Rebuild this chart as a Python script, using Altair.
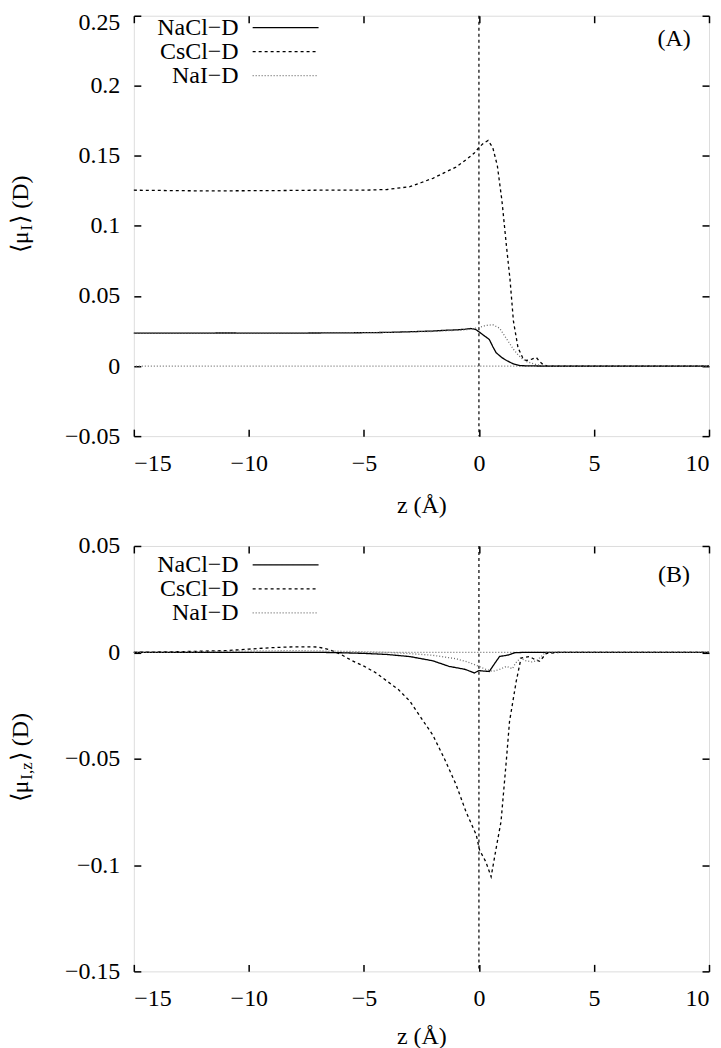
import altair as alt
import pandas as pd

FONT = "Liberation Serif"
SERIES = ["NaCl−D", "CsCl−D", "NaI−D"]
SERIES_COLORS = ["black", "black", "#6e6e6e"]
SERIES_DASH = [[1, 0], [3, 3], [1, 2]]
X_TICKS = [-15, -10, -5, 0, 5, 10]
A_TICKS = [-0.05, 0, 0.05, 0.1, 0.15, 0.2, 0.25]
B_TICKS = [-0.15, -0.1, -0.05, 0, 0.05]

# ---------------- Panel A : <mu_I> ----------------
a_nacl_z = [-15, -13, -11, -9, -7, -5, -4, -3, -2, -1.5, -1, -0.6, -0.35, -0.15, 0, 0.2, 0.45,
            0.6, 0.75, 1.0, 1.2, 1.5, 1.8, 2.2, 3, 5, 10]
a_nacl_v = [0.0235, 0.0235, 0.0236, 0.0235, 0.0236, 0.0238, 0.024, 0.0245, 0.025, 0.0255, 0.0258,
            0.0263, 0.0268, 0.0262, 0.0245, 0.022, 0.019, 0.014, 0.0095, 0.006, 0.004, 0.0015,
            0.0003, 0.0001, 0, 0, 0]

a_cscl_z = [-15, -12, -9, -7, -5, -4, -3, -2.5, -2, -1.5, -1, -0.5, -0.2, 0, 0.2, 0.4, 0.6, 0.8,
            1.0, 1.2, 1.35, 1.5, 1.7, 1.9, 2.05, 2.3, 2.5, 2.65, 2.8, 3.0, 5, 10]
a_cscl_v = [0.1255, 0.125, 0.1252, 0.1255, 0.1255, 0.126, 0.128, 0.131, 0.134, 0.138, 0.142, 0.148,
            0.152, 0.156, 0.159, 0.161, 0.156, 0.143, 0.118, 0.085, 0.062, 0.032, 0.013, 0.006,
            0.004, 0.005, 0.006, 0.003, 0.001, 0, 0, 0]

a_nai_z = [-15, -12, -9, -6, -4, -2, -1, -0.5, 0, 0.3, 0.6, 0.9, 1.1, 1.3, 1.5, 1.7, 1.9, 2.1, 2.3,
           2.5, 2.7, 2.9, 3.2, 5, 10]
a_nai_v = [0.0235, 0.0236, 0.0236, 0.0237, 0.024, 0.0247, 0.0255, 0.026, 0.0275, 0.029, 0.0295,
           0.027, 0.022, 0.017, 0.012, 0.008, 0.005, 0.003, 0.002, 0.001, 0.0005, 0.0002, 0, 0, 0]

# ---------------- Panel B : <mu_I,z> ----------------
b_nacl_z = [-15, -12, -9, -7, -6, -5, -4, -3, -2, -1.3, -0.6, -0.2, 0, 0.2, 0.45, 0.7, 0.9, 1.1,
            1.3, 1.55, 2, 3, 10]
b_nacl_v = [0, 0, 0, 0, -0.0002, -0.0005, -0.001, -0.002, -0.004, -0.0066, -0.008, -0.0097,
            -0.0086, -0.0088, -0.009, -0.005, -0.0019, -0.0016, -0.0012, -0.0002, 0, 0, 0]

b_cscl_z = [-15, -13, -11, -10, -9, -8, -7, -6.5, -6, -5.5, -5, -4.5, -4, -3.5, -3, -2.5, -2, -1.5,
            -1, -0.56, -0.12, 0.03, 0.3, 0.53, 0.75, 0.96, 1.19, 1.33, 1.62, 1.83, 2.2, 2.45, 2.64,
            2.93, 3.5, 10]
b_cscl_v = [0, 0.0003, 0.0008, 0.0015, 0.0022, 0.0026, 0.0025, 0.0013, -0.001, -0.004, -0.0065,
            -0.0095, -0.0135, -0.0175, -0.023, -0.031, -0.039, -0.05, -0.062, -0.075, -0.0857,
            -0.093, -0.0985, -0.1055, -0.092, -0.0796, -0.051, -0.0325, -0.0137, -0.0027, -0.002,
            -0.0035, -0.0042, -0.0005, 0, 0]

b_nai_z = [-15, -12, -10, -8, -6, -4, -3, -2, -1, -0.5, 0, 0.3, 0.6, 0.9, 1.2, 1.45, 1.6, 1.8,
           2.05, 2.3, 2.5, 2.7, 2.9, 3.2, 10]
b_nai_v = [0, 0.0003, 0.0006, 0.0008, 0.0005, 0, -0.0006, -0.0014, -0.003, -0.0045, -0.0066,
           -0.008, -0.009, -0.008, -0.0066, -0.0077, -0.005, -0.0027, -0.004, -0.0045, -0.004,
           -0.002, 0, 0, 0]


def frame(parts):
    rows = []
    for name, zs, vs in parts:
        rows += [{"series": name, "z": z, "v": v} for z, v in zip(zs, vs)]
    return pd.DataFrame(rows)


df_a = frame([(SERIES[0], a_nacl_z, a_nacl_v), (SERIES[1], a_cscl_z, a_cscl_v),
              (SERIES[2], a_nai_z, a_nai_v)])
df_b = frame([(SERIES[0], b_nacl_z, b_nacl_v), (SERIES[1], b_cscl_z, b_cscl_v),
              (SERIES[2], b_nai_z, b_nai_v)])

W = 576
TICK = dict(tickSize=7, offset=-7, domain=False, tickColor="black", tickWidth=1.5, grid=False)


def legend(ly):
    return alt.Legend(orient="none", legendX=140, legendY=ly, title=None,
                      symbolType="M-6,0H6", symbolSize=121, symbolStrokeWidth=1.3,
                      labelFont=FONT, labelFontSize=24, labelColor="black",
                      labelAlign="right", labelOffset={"expr": "-59"}, rowPadding=0, padding=0)


def panel(df, ydomain, yticks, height, tag, tag_y, main, sub, tail, sub_w, anchor_y,
          legend_y, title_pad, top_label):
    xs = alt.Scale(domain=[-15, 10], nice=False, zero=False)
    ys = alt.Scale(domain=ydomain, nice=False, zero=False)

    vrule = alt.Chart(pd.DataFrame({"z": [0.0]})).mark_rule(
        color="black", strokeDash=[3, 3], strokeWidth=1.2).encode(
        x=alt.X("z:Q", scale=xs, axis=alt.Axis(orient="top", values=X_TICKS, labels=False,
                                              title=None, **TICK)))
    hrule = alt.Chart(pd.DataFrame({"v": [0.0]})).mark_rule(
        color="#6e6e6e", strokeDash=[1, 2], strokeWidth=1.2).encode(
        y=alt.Y("v:Q", scale=ys, axis=alt.Axis(orient="right", values=yticks, labels=False,
                                              title=None, **TICK)))
    lines = alt.Chart(df).mark_line(strokeWidth=1.3).encode(
        x=alt.X("z:Q", scale=xs,
                axis=alt.Axis(orient="bottom", values=X_TICKS, format="d",
                              labelFont=FONT, labelFontSize=24, labelColor="black",
                              labelPadding=15, title="z (Å)", titleFont=FONT, titleFontSize=24,
                              titleFontWeight="normal", titleColor="black",
                              titlePadding=title_pad, **TICK)),
        y=alt.Y("v:Q", scale=ys,
                axis=alt.Axis(orient="left", values=yticks, format=".2~f",
                              labelFont=FONT, labelFontSize=24, labelColor="black",
                              labelPadding=14, title=None,
                              labelOffset={"condition": {"test": f"datum.value > {top_label}",
                                                         "value": 7}, "value": 0},
                              **TICK)),
        color=alt.Color("series:N", scale=alt.Scale(domain=SERIES, range=SERIES_COLORS),
                        legend=legend(legend_y)),
        strokeDash=alt.StrokeDash("series:N", scale=alt.Scale(domain=SERIES, range=SERIES_DASH),
                                  legend=legend(legend_y)),
        order=alt.Order("z:Q"),
    )
    one = alt.Data(values=[{}])
    tag_text = alt.Chart(one).mark_text(text=tag, font=FONT, fontSize=24, color="black").encode(
        x=alt.value(541), y=alt.value(tag_y))
    t1 = alt.Chart(one).mark_text(text=main, font=FONT, fontSize=24, angle=270, align="right",
                                  baseline="middle", color="black").encode(
        x=alt.value(-113), y=alt.value(anchor_y))
    t2 = alt.Chart(one).mark_text(text=sub, font=FONT, fontSize=17, angle=270, align="left",
                                  baseline="middle", dx=1, dy=6, color="black").encode(
        x=alt.value(-113), y=alt.value(anchor_y))
    t3 = alt.Chart(one).mark_text(text=tail, font=FONT, fontSize=24, angle=270, align="left",
                                  baseline="middle", dx=2 + sub_w, color="black").encode(
        x=alt.value(-113), y=alt.value(anchor_y))

    return alt.layer(vrule, hrule, lines, tag_text, t1, t2, t3).resolve_axis(
        x="independent", y="independent").properties(width=W, height=height)


pa = panel(df_a, [-0.05, 0.25], A_TICKS, 421, "(A)", 23, "⟨μ", "I", "⟩ (D)", 5.7, 216,
           0, 18, 0.24)
pb = panel(df_b, [-0.15, 0.05], B_TICKS, 426, "(B)", 29, "⟨μ", "I,z", "⟩ (D)", 17.5, 235,
           7, 14, 0.06)

chart = alt.vconcat(pa, pb, spacing=110, bounds="flush").resolve_scale(
    x="independent", y="independent", color="independent", strokeDash="independent"
).properties(
    padding={"left": 0, "top": 1, "right": 0, "bottom": 0}
).configure_view(stroke="black", strokeWidth=1.5).configure(background="white")

chart.save("out.html", embed_options={"renderer": "svg", "actions": False})
